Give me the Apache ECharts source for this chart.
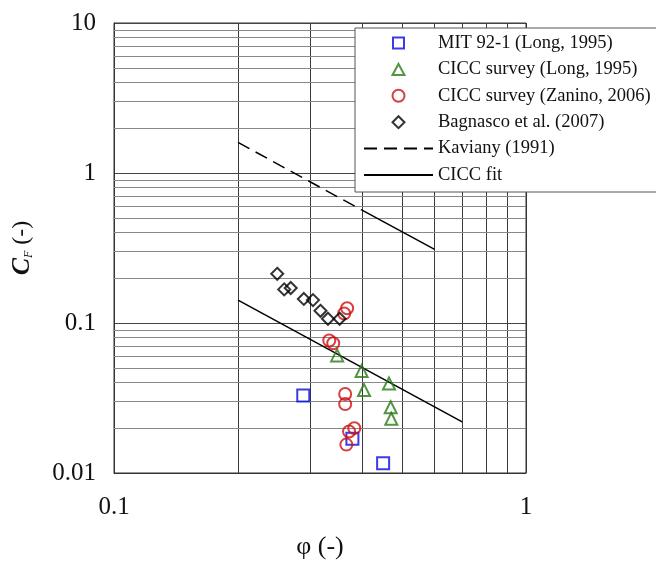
<!DOCTYPE html>
<html>
<head>
<meta charset="utf-8">
<title>CF vs phi</title>
<script src="https://cdn.jsdelivr.net/npm/echarts@6/dist/echarts.min.js"></script>
<style>
  html, body { margin: 0; padding: 0; background: #fff; }
  #chart { width: 656px; height: 565px; }
</style>
</head>
<body>
<div id="chart"></div>
<script>
// data: [phi, CF]
const mit921 = [[0.288, 0.0329], [0.379, 0.0169], [0.450, 0.01163]]
const cicclong = [[0.348, 0.0608], [0.399, 0.0479], [0.4045, 0.0357], [0.465, 0.0395], [0.4695, 0.0274], [0.471, 0.0230]]
const ciccZanino = [
  [0.368, 0.1255], [0.362, 0.1157], [0.333, 0.0764], [0.3405, 0.0733],
  [0.364, 0.0336], [0.364, 0.0288], [0.383, 0.0199], [0.372, 0.0189], [0.3664, 0.01546]
]
const bagnasco = [
  [0.249, 0.2128], [0.2589, 0.1675], [0.2685, 0.1711], [0.2889, 0.1447],
  [0.3041, 0.1421], [0.317, 0.1206], [0.3306, 0.1067], [0.3529, 0.1067]
]
const kavianyDashed = [[0.2, 1.6], [0.4, 0.565]]
const kavianySolid = [[0.4, 0.565], [0.6, 0.31]]
const ciccFit = [[0.2, 0.142], [0.7, 0.0219]]

// minor grid values
const xMinor = [0.2, 0.3, 0.4, 0.5, 0.6, 0.7, 0.8, 0.9]
const yMinor = [
  0.02, 0.03, 0.04, 0.05, 0.06, 0.07, 0.08, 0.09,
  0.2, 0.3, 0.4, 0.5, 0.6, 0.7, 0.8, 0.9,
  2, 3, 4, 5, 6, 7, 8, 9
]

const legendNames = [
  'MIT 92-1 (Long, 1995)',
  'CICC survey (Long, 1995)',
  'CICC survey (Zanino, 2006)',
  'Bagnasco et al. (2007)',
  'Kaviany (1991)',
  'CICC fit'
]

const serif = 'Liberation Serif, Times New Roman, serif'

// legend icons drawn inside the full 69x12 icon box so they keep their shape
// (the leading moves only span the box)
const box = 'path://M0,0M69,12'
const legendIcons = [
  box + 'M29,0.5L40,0.5L40,11.5L29,11.5Z',
  box + 'M34.5,0.5L40.5,11.5L28.5,11.5Z',
  'circle',
  box + 'M34.5,0L40.5,6L34.5,12L28.5,6Z'
]

function hollow(name, symbol, color, data) {
  return {
    name: name,
    type: 'scatter',
    symbol: symbol,
    symbolSize: 12,
    z: 3,
    itemStyle: {
      color: 'rgba(0,0,0,0)',
      borderColor: color,
      borderWidth: 2
    },
    data: data
  }
}

const legendData = legendNames.map((n, i) => {
  if (i < 4) return { name: n, icon: legendIcons[i] }
  // plain lines get no marker in the middle
  return { name: n, itemStyle: { opacity: 0, color: 'rgba(0,0,0,0)', borderWidth: 0 } }
})

const chart = echarts.init(document.getElementById('chart'))

chart.setOption({
  animation: false,
  textStyle: { fontFamily: serif },
  grid: {
    left: 114,
    right: 130,
    top: 23,
    bottom: 88,
    show: true,
    borderColor: '#333',
    borderWidth: 1
  },
  legend: {
    data: legendData,
    orient: 'vertical',
    left: 355,
    top: 28,
    padding: [5, 20, 7, 8],
    itemWidth: 69,
    itemHeight: 12,
    itemGap: 6.4,
    backgroundColor: '#fff',
    borderColor: '#555',
    borderWidth: 1,
    textStyle: {
      fontFamily: serif,
      fontSize: 18.5,
      lineHeight: 20,
      color: '#111'
    }
  },
  xAxis: {
    type: 'log',
    logBase: 10,
    min: 0.1,
    max: 1,
    name: 'φ (-)',
    nameLocation: 'middle',
    nameGap: 61,
    nameTextStyle: { fontFamily: serif, fontSize: 26, color: '#111' },
    axisLine: { lineStyle: { color: '#333' } },
    axisTick: { show: false },
    axisLabel: { fontFamily: serif, fontSize: 25, color: '#111', margin: 22 },
    splitLine: { show: true, lineStyle: { color: '#333' } }
  },
  yAxis: {
    type: 'log',
    logBase: 10,
    min: 0.01,
    max: 10,
    name: '{c|C}{f|F}{n| (-)}',
    nameLocation: 'middle',
    nameGap: 79,
    nameTextStyle: {
      color: '#111',
      rich: {
        c: { fontFamily: serif, fontSize: 26, fontStyle: 'italic', fontWeight: 'bold' },
        f: { fontFamily: serif, fontSize: 12, fontStyle: 'italic', verticalAlign: 'bottom' },
        n: { fontFamily: serif, fontSize: 24 }
      }
    },
    axisLine: { lineStyle: { color: '#333' } },
    axisTick: { show: false },
    axisLabel: { fontFamily: serif, fontSize: 25, color: '#111', margin: 18 },
    splitLine: { show: true, lineStyle: { color: '#444' } }
  },
  series: [
    {
      // minor grid lines
      name: 'grid',
      type: 'scatter',
      data: [],
      markLine: {
        silent: true,
        z: 1,
        symbol: 'none',
        animation: false,
        label: { show: false },
        lineStyle: { type: 'solid', width: 1 },
        data: xMinor.map(v => ({ xAxis: v, lineStyle: { color: '#3a3a3a', type: 'solid', width: 1 } }))
          .concat(yMinor.map(v => ({ yAxis: v, lineStyle: { color: '#888', type: 'solid', width: 1 } })))
      }
    },
    hollow(legendNames[0], 'rect', '#0a0ae0', mit921),
    hollow(legendNames[1], 'triangle', '#277a14', cicclong),
    hollow(legendNames[2], 'circle', '#cc1010', ciccZanino),
    hollow(legendNames[3], 'diamond', '#000', bagnasco),
    {
      name: legendNames[4],
      type: 'line',
      symbol: 'none',
      z: 2,
      lineStyle: { color: '#000', width: 1.5, type: [13, 7] },
      itemStyle: { color: '#000' },
      data: kavianyDashed
    },
    {
      name: legendNames[4],
      type: 'line',
      symbol: 'none',
      z: 2,
      lineStyle: { color: '#000', width: 1.5 },
      itemStyle: { color: '#000' },
      data: kavianySolid
    },
    {
      name: legendNames[5],
      type: 'line',
      symbol: 'none',
      z: 2,
      lineStyle: { color: '#000', width: 1.5 },
      itemStyle: { color: '#000' },
      data: ciccFit
    }
  ]
})
</script>
</body>
</html>
